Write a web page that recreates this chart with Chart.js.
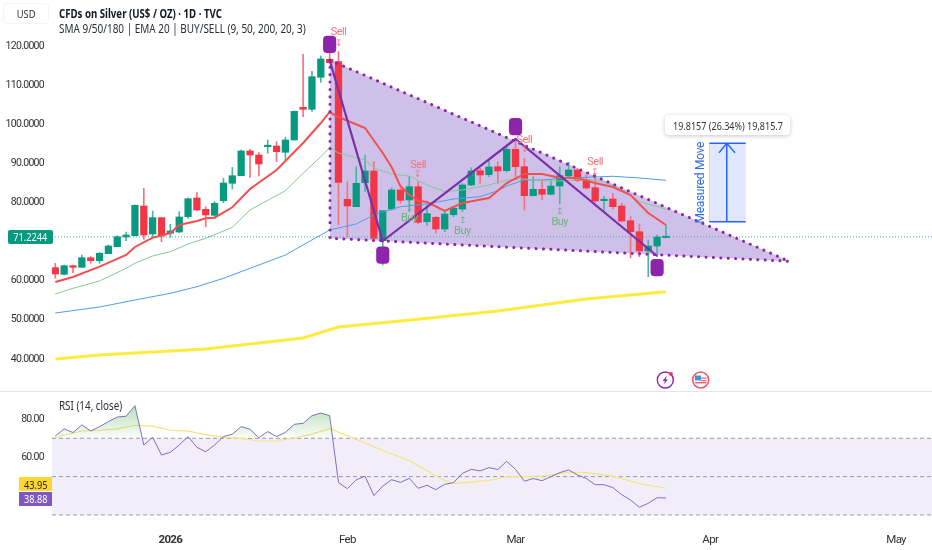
<!DOCTYPE html>
<html>
<head>
<meta charset="utf-8">
<script src="https://cdn.jsdelivr.net/npm/chart.js@4/dist/chart.umd.min.js"></script>
<style>
html,body{margin:0;padding:0;background:#fff;width:932px;height:550px;overflow:hidden;font-family:"Noto Sans",sans-serif;color:#131722}
canvas{position:absolute;left:0;display:block}
.t{position:absolute;white-space:nowrap;transform-origin:left center}
.c{position:absolute;box-sizing:border-box;display:flex;justify-content:center;align-items:center;white-space:nowrap}
.c span{display:inline-block}
</style>
</head>
<body>
<canvas id="main" width="932" height="391" style="top:0"></canvas>
<canvas id="rsi" width="932" height="158" style="top:392px"></canvas>
<div style="position:absolute;left:0;top:391px;width:932px;height:1px;background:#e3e5ea"></div>
<div class="c" style="left:3px;top:3px;width:46px;height:21px;border:1px solid #f3f4f6;border-radius:4px;font-size:11px;color:#333"><span style="transform:scaleX(.85)">USD</span></div>
<div class="t" style="left:59px;top:6px;font-size:12px;font-weight:700;line-height:16px;transform:scaleX(.805)">CFDs on Silver (US$ / OZ) · 1D · TVC</div>
<div class="t" style="left:59px;top:20.5px;font-size:12px;line-height:16px;color:#2a2e39;transform:scaleX(.83)">SMA 9/50/180 | EMA 20 | BUY/SELL (9, 50, 200, 20, 3)</div>
<div class="t" style="left:59px;top:398px;font-size:12px;line-height:16px;color:#2a2e39;transform:scaleX(.82)">RSI (14, close)</div>
<div class="c" style="left:8px;top:230px;width:44.5px;height:13.5px;background:#089981;color:#fff;font-size:11.5px;border-radius:2px"><span style="transform:scaleX(.8)">71.2244</span></div>
<div class="c" style="left:19px;top:477px;width:33px;height:14px;background:#ffd52e;color:#222;font-size:11.5px"><span style="transform:scaleX(.8)">43.95</span></div>
<div class="c" style="left:19px;top:491.5px;width:33px;height:14px;background:#7e57c2;color:#fff;font-size:11.5px"><span style="transform:scaleX(.8)">38.88</span></div>
<div class="c" style="left:665px;top:115px;width:125px;height:20px;background:#fff;border-radius:4px;box-shadow:0 1px 4px rgba(0,0,0,.22);font-size:11px;color:#333"><span style="transform:scaleX(.82)">19.8157 (26.34%) 19,815.7</span></div>
<svg style="position:absolute;left:654px;top:369px" width="58" height="22" viewBox="0 0 58 22">
<circle cx="11.3" cy="11" r="8" fill="#fff" stroke="#8e24aa" stroke-width="1.4"/>
<path d="M13 6.5 L8.5 12 L11 12 L9.5 15.5 L14 10.5 L11.5 10.5 Z" fill="#8e24aa"/>
<circle cx="17" cy="5" r="1.9" fill="#f23645"/>
<circle cx="46.7" cy="11" r="8" fill="#fff" stroke="#ef5b6b" stroke-width="1.6"/>
<rect x="41" y="6.5" width="11.5" height="8" fill="#fff"/>
<rect x="41" y="6.5" width="6" height="5" fill="#4a90e2"/>
<rect x="47" y="8.5" width="5.5" height="1.2" fill="#ef5b6b"/><rect x="47" y="11" width="5.5" height="1.2" fill="#ef5b6b"/><rect x="41" y="13" width="11.5" height="1.4" fill="#ef5b6b"/>
</svg>
<script>
const openPrice=[63.34,61.65,63.85,63.44,65.89,65.13,66.92,68.70,71.18,71.52,79.11,71.95,76.12,72.13,72.46,76.37,81.15,78.26,76.73,80.46,84.91,86.85,93.17,92.14,94.26,94.44,92.83,95.98,104.33,103.82,112.0,116.60,115.99,80.82,78.93,85.06,88.05,70.24,78.34,83.20,80.64,84.04,75.09,76.22,73.23,76.88,78.34,84.48,88.13,87.11,89.15,88.13,93.60,89.15,81.74,83.37,82.10,84.22,86.77,88.31,85.67,83.78,80.46,80.90,79.11,75.35,72.54,67.61,68.88,71.0];
const highPrice=[64.46,64.03,64.03,66.58,66.15,67.27,69.14,71.51,72.46,79.36,83.63,77.83,76.12,74.43,77.65,81.15,82.51,78.93,80.21,86.19,88.95,93.42,93.60,92.73,95.98,95.54,96.67,103.39,117.88,113.54,117.45,118.21,118.55,85.32,89.15,92.14,90.43,77.91,83.78,83.63,86.60,85.32,79.36,76.37,77.65,78.93,84.91,88.90,88.74,90.86,90.43,94.70,96.16,91.30,86.60,85.75,85.75,89.15,90.28,88.74,87.03,87.03,81.66,82.35,79.87,76.37,74.51,70.42,71.69,74.25];
const lowPrice=[60.63,61.47,62.06,63.44,64.46,64.46,66.92,68.70,70.24,71.44,70.60,71.11,69.98,71.11,72.28,75.96,77.91,73.82,75.96,79.95,83.45,86.85,86.44,86.77,92.58,90.43,90.86,95.98,101.93,103.31,110.72,115.73,74.25,71.26,78.93,82.76,70.42,64.03,78.08,79.80,77.65,74.51,74.07,72.13,72.54,76.37,77.65,84.30,84.91,86.60,84.91,87.87,86.44,78.08,81.66,80.64,81.92,79.62,86.60,85.32,83.37,80.05,77.65,78.34,75.02,65.82,66.15,61.03,66.15,71.0];
const closePrice=[61.73,63.85,63.44,65.89,65.13,67.02,68.88,71.26,71.69,79.29,71.69,76.12,71.44,72.72,76.30,80.97,78.08,76.81,79.80,84.98,86.85,93.17,92.14,89.84,94.52,92.99,95.98,103.31,103.82,112.16,116.68,115.73,85.16,79.11,84.91,88.05,70.85,77.91,83.20,80.56,84.04,74.94,77.14,73.23,77.06,78.52,84.48,88.05,87.03,89.08,88.05,93.60,89.15,81.74,83.37,82.10,84.22,86.85,88.31,85.67,83.71,80.39,80.64,78.93,75.27,72.54,67.61,68.88,71.18,71.2244];

const ema20Bars=[0,2,5,8,9,11,13,14,16,17,18,20,22,25,28,30,31,32,35,37,38,39,40,41,42,44,46,49,50,51,53,55,57,59,61,63,65,67,69];
const ema20=[59.68,60.96,63.6,66.58,68.63,71.0,72.2,74.25,75.27,75.96,76.12,78.77,83.45,88.31,95.21,100.32,103.13,101.85,99.04,92.65,89.08,84.2,81.92,80.46,80.13,77.83,79.87,81.15,83.02,84.98,87.29,87.29,86.34,86.26,84.98,83.96,81.92,77.32,74.25];
const sma9Bars=[0,2,5,8,9,11,13,15,17,20,22,26,28,30,31,32,35,36,38,40,42,44,46,49,51,53,55,57,60,62,64,66,69];
const sma9=[56.61,58.07,59.94,63.18,64.46,66.33,67.43,69.39,70.85,73.66,78.08,83.02,87.46,91.71,94.01,92.65,90.86,88.82,87.29,86.77,84.48,82.76,83.2,84.47,85.75,86.01,85.57,85.5,86.01,85.32,83.45,80.21,78.26];
const sma50Bars=[0,5,9,13,16,19,22,26,28,31,33,34,36,39,42,45,48,50,51,53,55,58,60,63,66,69];
const sma50=[51.76,53.29,55.08,56.79,58.48,60.63,63.18,66.58,69.14,72.97,74,74.51,76.81,78.93,79.62,80.9,81.49,83.02,84.22,85.75,85.75,86.34,86.44,86.7,86.26,85.68];
const sma180Bars=[0,5,17,28,32,39,50,60,69];
const sma180=[40,41.02,42.56,45.37,48.18,49.71,52.27,55.34,57.2];

const priceTicks=[40,50,60,70,80,90,100,110,120];
const lastPrice=71.2244;
const triangleBars=[31.04,82.93,31.04,31.04];
const trianglePrices=[116.4,64.97,70.85,116.4];
const harmonicBars=[31,37,52,68];
const harmonicPrices=[116.4,70.16,96.23,66.33];
const pivotBars=[31,37,52,68];
const pivotLow=[118.29,64.46,97.25,61.21];
const pivotHigh=[122.56,68.7,101.52,65.48];
const signalBars=[32,41,40,46,53,61,57];
const signalText=["Sell","Sell","Buy","Buy","Sell","Sell","Buy"];
const signalLabelPrice=[123.4,89.6,75.86,72.54,95.98,90.35,74.84];
const signalArrowPrice=[120.51,87.03,78.6,75.27,93.42,87.62,77.65];
const moveBars=[73.9,78.01];
const moveBase=75.09;
const moveTop=95.13;
const moveArrowBar=75.87;
const moveHeadBars=[74.99,75.87,76.8];
const moveHeadPrices=[92.73,95.13,92.73];

const rsiValues=[71.2,74.9,73.0,77.0,73.8,76.1,78.7,81.1,81.5,87.0,66.5,70.5,61.3,62.7,66.5,70.9,65.3,63.0,66.5,70.9,72.1,76.1,74.7,70.3,73.5,70.9,73.1,77.3,77.8,81.8,83.2,81.8,46.9,43.7,48.3,50.2,40.1,45.1,48.4,47.0,49.1,43.9,45.5,43.2,46.0,46.9,51.7,53.8,53.0,54.7,53.7,58.0,53.8,47.6,49.0,47.9,50.0,52.1,53.5,50.9,49.0,45.8,45.8,44.3,40.6,37.8,34.0,36.1,39.0,38.88];
const rsiMaBars=[0,1,3,5,7,9,11,13,15,17,19,21,23,25,27,29,31,34,36,40,44,45,49,51,55,58,60,63,66,69];
const rsiMa=[70.3,71.7,73.8,74.2,74.9,76.8,76.3,74.2,73.7,71.9,70.5,70,68.6,68.6,70.3,72.2,75,69.5,65.5,58.3,48,46.4,48,49.9,50.3,52.4,52.1,50.3,46.4,43.95];
const rsiTicks=[60,80];
const rsiLevels=[70,50,30];
const timeTickBars=[13,33,52,74,95];
const timeTickLabels=["2026","Feb","Mar","Apr","May"];

const FONT='"Roboto",sans-serif';
const UP='#089981',DOWN='#f23645';
const XMIN=-0.373,XMAX=99.06;
const pairs=(xs,ys)=>xs.map((x,i)=>({x,y:ys[i]}));
const idx=closePrice.map((_,i)=>i);
const candleColor=idx.map(i=>closePrice[i]>=openPrice[i]?UP:DOWN);
const wickColor=idx.map(i=>closePrice[i]>=openPrice[i]?'#4bb5a2':'#f6727d');

function line(data,color,width,order,extra){
  return Object.assign({type:'line',data,borderColor:color,borderWidth:width,pointRadius:0,pointHoverRadius:0,tension:0,fill:false,order},extra||{});
}
const fitY=(s)=>{s.width=52;s.paddingTop=0;s.paddingBottom=0;};
const tighten={id:'tighten',beforeDraw(chart){chart.ctx.letterSpacing='-0.7px';}};

const signalPlugin={id:'signals',afterDatasetsDraw(chart){
  const {ctx,scales:{x,y}}=chart;
  ctx.save();ctx.textAlign='center';ctx.textBaseline='middle';
  ctx.letterSpacing='-0.5px';
  signalBars.forEach((b,i)=>{
    const sell=signalText[i]==='Sell';
    ctx.fillStyle=sell?'#f4737c':'#6cb57a';
    ctx.font='11px '+FONT;
    ctx.fillText(signalText[i],x.getPixelForValue(b),y.getPixelForValue(signalLabelPrice[i]));
    ctx.font='9px '+FONT;
    ctx.fillText(sell?'↧':'↥',x.getPixelForValue(b),y.getPixelForValue(signalArrowPrice[i]));
  });
  ctx.translate(701,182.7);ctx.rotate(-Math.PI/2);
  ctx.fillStyle='#2e6cf0';ctx.font='12px '+FONT;
  ctx.letterSpacing='-0.3px';
  ctx.fillText('Measured Move',0,0);
  ctx.restore();
}};

new Chart(document.getElementById('main'),{
  data:{datasets:[
    line(pairs(triangleBars,trianglePrices),'rgba(0,0,0,0)',0,20,{fill:'shape',backgroundColor:'rgba(103,58,183,0.32)',label:'zone'}),
    line(pairs([moveBars[0],moveBars[1],moveBars[1],moveBars[0],moveBars[0]],[moveBase,moveBase,moveTop,moveTop,moveBase]),'rgba(0,0,0,0)',0,19,{fill:'shape',backgroundColor:'rgba(41,98,255,0.15)'}),
    line(pairs([moveBars[0],moveBars[0]],[moveBase,moveTop]),'#f5e04a',1,18),
    {type:'bar',label:'wick',data:idx.map(i=>({x:i,y:[lowPrice[i],highPrice[i]]})),backgroundColor:wickColor,barThickness:1,grouped:false,order:15},
    {type:'bar',label:'body',data:idx.map(i=>({x:i,y:[openPrice[i],closePrice[i]]})),backgroundColor:candleColor,barThickness:6.6,grouped:false,minBarLength:1.5,order:14},
    line(pairs(sma180Bars,sma180),'#fdeb3f',3,13),
    line(pairs(sma50Bars,sma50),'#4a9fe6',1,12),
    line(pairs(sma9Bars,sma9),'#86c796',1,11),
    line(pairs(ema20Bars,ema20),'#f2504f',2,10),
    line(pairs([XMIN,XMAX],[lastPrice,lastPrice]),'#4fae9e',1,9,{borderDash:[1,2]}),
    line(pairs(harmonicBars,harmonicPrices),'#7b2fa8',2.2,8),
    line(pairs(triangleBars,trianglePrices),'#8e24aa',3,7,{borderDash:[0.1,7.3],borderCapStyle:'round'}),
    {type:'bar',label:'pivots',data:pivotBars.map((b,i)=>({x:b,y:[pivotLow[i],pivotHigh[i]]})),backgroundColor:'#8e24aa',barThickness:12.5,grouped:false,borderRadius:4,borderSkipped:false,order:6},
    line(pairs([moveBars[0],moveBars[1]],[moveBase,moveBase]),'#2962ff',1.5,5),
    line(pairs([moveBars[0],moveBars[1]],[moveTop,moveTop]),'#2962ff',1.5,5),
    line(pairs([moveArrowBar,moveArrowBar],[moveBase,moveTop]),'#2962ff',1.5,5),
    line(pairs(moveHeadBars,moveHeadPrices),'#2962ff',1.5,5)
  ]},
  options:{responsive:false,animation:false,devicePixelRatio:1,
    layout:{padding:0,autoPadding:false},
    plugins:{legend:{display:false},tooltip:{enabled:false},title:{display:false}},
    scales:{
      x:{type:'linear',min:XMIN,max:XMAX,display:false,offset:false,grid:{display:false}},
      y:{type:'linear',min:31.82,max:131.76,position:'left',border:{display:false},grid:{display:false},
        afterFit:fitY,
        afterBuildTicks(s){s.ticks=priceTicks.map(value=>({value}));},
        ticks:{color:'#333',padding:0,font:{family:FONT,size:10.5},callback:v=>Number(v).toFixed(4)}}
    }
  },
  plugins:[tighten,signalPlugin]
});

const rsiCanvas=document.getElementById('rsi');
const rsiCtx=rsiCanvas.getContext('2d');
const rsiGreen=rsiCtx.createLinearGradient(0,14,0,46);
rsiGreen.addColorStop(0,'rgba(76,175,80,0.4)');
rsiGreen.addColorStop(1,'rgba(76,175,80,0.02)');

new Chart(rsiCanvas,{
  data:{datasets:[
    line(pairs([XMIN,XMAX,XMAX,XMIN,XMIN],[rsiLevels[2],rsiLevels[2],rsiLevels[0],rsiLevels[0],rsiLevels[2]]),'rgba(0,0,0,0)',0,10,{fill:'shape',backgroundColor:'rgba(126,87,194,0.1)'}),
    ...rsiLevels.map(l=>line(pairs([XMIN,XMAX],[l,l]),'#9a9aa6',1,9,{borderDash:[4,3]})),
    line(pairs(rsiMaBars,rsiMa),'#f7e27e',1.2,3),
    line(pairs(idx,rsiValues),'#7e6fbe',1,2,{fill:{target:{value:70},above:rsiGreen,below:'rgba(0,0,0,0)'}})
  ]},
  options:{responsive:false,animation:false,devicePixelRatio:1,
    layout:{padding:0,autoPadding:false},
    plugins:{legend:{display:false},tooltip:{enabled:false},title:{display:false}},
    scales:{
      x:{type:'linear',min:XMIN,max:XMAX,offset:false,position:'bottom',border:{display:false},grid:{display:false,drawTicks:false},
        afterFit(s){s.height=23;},
        afterBuildTicks(s){s.ticks=timeTickBars.map(value=>({value}));},
        ticks:{color:'#333',autoSkip:false,maxRotation:0,padding:6,
          font:c=>({family:FONT,size:11.5,weight:c.index===0?'bold':'normal'}),
          callback:v=>timeTickLabels[timeTickBars.indexOf(v)]}},
      y:{type:'linear',min:23.73,max:94.15,position:'left',border:{display:false},grid:{display:false},
        afterFit:fitY,
        afterBuildTicks(s){s.ticks=rsiTicks.map(value=>({value}));},
        ticks:{color:'#333',padding:0,font:{family:FONT,size:10.5},callback:v=>Number(v).toFixed(2)}}
    }
  },
  plugins:[tighten]
});
</script>
</body>
</html>
